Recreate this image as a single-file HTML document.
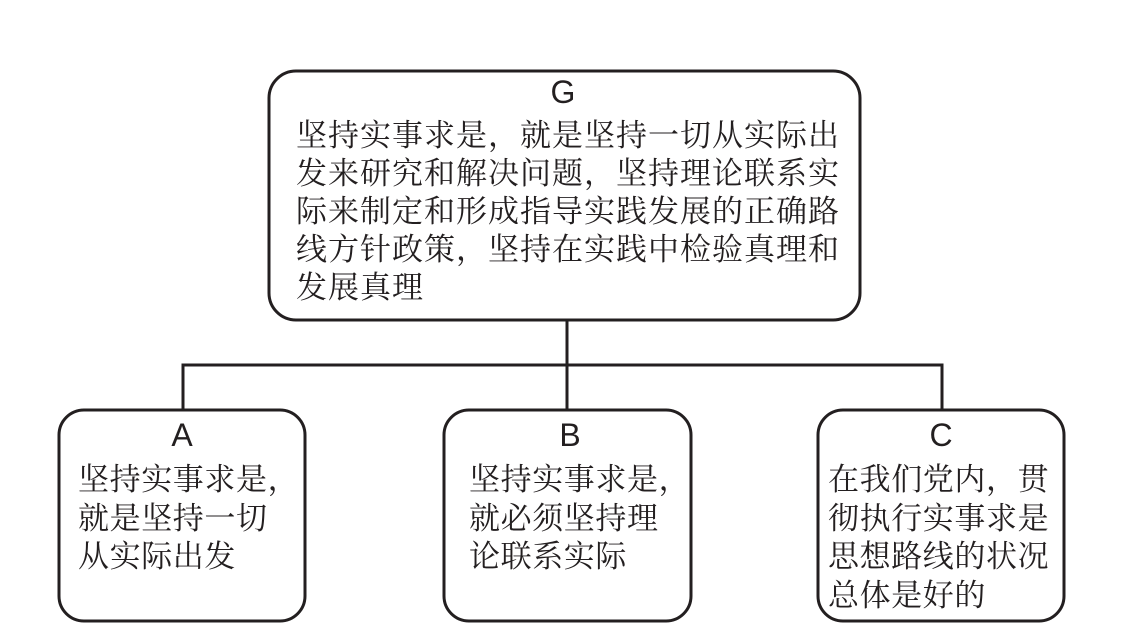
<!DOCTYPE html>
<html>
<head>
<meta charset="utf-8">
<style>
html,body{margin:0;padding:0;background:#fff;width:1122px;height:640px;overflow:hidden}
svg{display:block}
.l{font-family:"Liberation Sans",sans-serif;font-size:32px;fill:#231f20;text-anchor:middle}
.t{font-family:"Noto Serif CJK SC",serif;font-size:31px;fill:#231f20;letter-spacing:1px}
.s{font-family:"Noto Serif CJK SC",serif;font-size:31px;fill:#231f20;letter-spacing:.6px}
</style>
</head>
<body>
<svg width="1122" height="640" viewBox="0 0 1122 640" xmlns="http://www.w3.org/2000/svg">
<g fill="none" stroke="#231f20" stroke-width="3">
<rect x="269" y="71" width="591" height="249" rx="27" ry="27"/>
<rect x="59" y="410" width="246" height="211" rx="25" ry="25"/>
<rect x="444" y="410" width="247" height="211" rx="25" ry="25"/>
<rect x="818" y="410" width="246" height="211" rx="25" ry="25"/>
<path d="M567 320V410M183 410V365H942V410"/>
</g>
<text class="l" x="563" y="103">G</text>
<text class="t" x="296" y="146">坚持实事求是，就是坚持一切从实际出</text>
<text class="t" x="296" y="184">发来研究和解决问题，坚持理论联系实</text>
<text class="t" x="296" y="222">际来制定和形成指导实践发展的正确路</text>
<text class="t" x="296" y="260">线方针政策，坚持在实践中检验真理和</text>
<text class="t" x="296" y="298">发展真理</text>
<text class="l" x="182" y="446">A</text>
<text class="s" x="78" y="490">坚持实事求是，</text>
<text class="s" x="78" y="529">就是坚持一切</text>
<text class="s" x="78" y="567">从实际出发</text>
<text class="l" x="570" y="446">B</text>
<text class="s" x="469" y="490">坚持实事求是，</text>
<text class="s" x="469" y="529">就必须坚持理</text>
<text class="s" x="469" y="567">论联系实际</text>
<text class="l" x="941" y="446">C</text>
<text class="s" x="828" y="490">在我们党内，贯</text>
<text class="s" x="828" y="529">彻执行实事求是</text>
<text class="s" x="828" y="567">思想路线的状况</text>
<text class="s" x="828" y="606">总体是好的</text>
</svg>
</body>
</html>
